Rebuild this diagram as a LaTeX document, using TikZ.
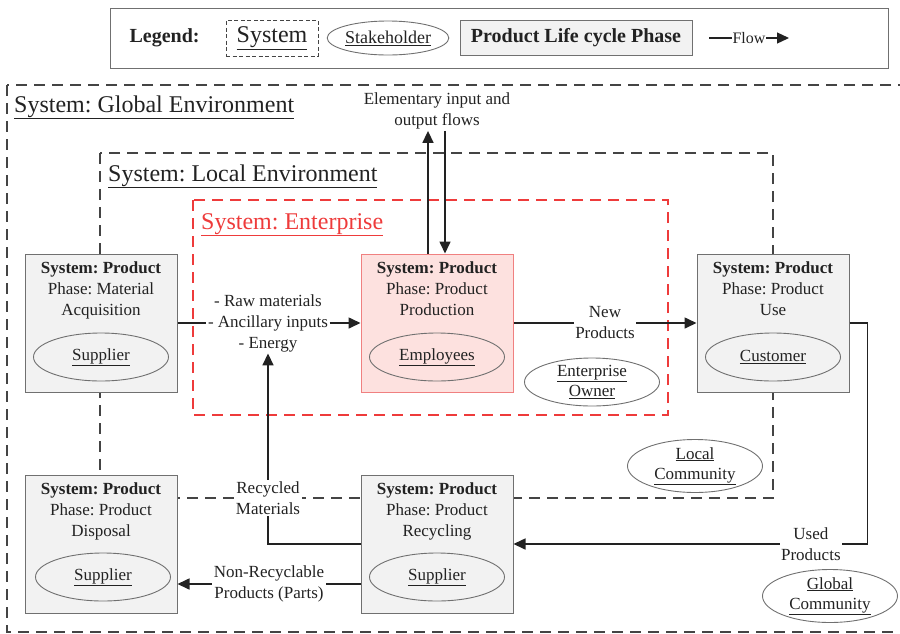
\documentclass[tikz,border=0pt]{standalone}
\usepackage{fontspec}
\setmainfont{Liberation Serif}
\frenchspacing
\usetikzlibrary{positioning,arrows.meta,calc,shapes.geometric}
\definecolor{ink}{HTML}{222222}
\definecolor{envline}{HTML}{444444}
\definecolor{boxline}{HTML}{707070}
\definecolor{boxfill}{HTML}{F2F2F2}
\definecolor{entred}{HTML}{EE3B3B}
\definecolor{prodfill}{HTML}{FDE1DF}
\definecolor{prodline}{HTML}{F08080}
\tikzset{
  phasebox/.style={draw=boxline,fill=boxfill,line width=1pt,minimum width=152pt,minimum height=138pt,inner sep=0pt},
  redphasebox/.style={phasebox,draw=prodline,fill=prodfill},
  phasetxt/.style={anchor=north,align=center,inner sep=0pt,text=ink,font=\fontsize{17}{21}\selectfont},
  holder/.style={ellipse,draw=boxline,line width=0.9pt,minimum width=135pt,minimum height=48pt,inner sep=0pt,align=center,text=ink,font=\fontsize{17}{20}\selectfont},
  envbox/.style={draw=envline,line width=1.6pt,dash pattern=on 11pt off 7pt},
  redenvbox/.style={envbox,draw=entred},
  envlbl/.style={anchor=base west,inner sep=0pt,text=ink,font=\fontsize{24}{28}\selectfont},
  flow/.style={-{Triangle[length=12pt,width=11pt]},draw=ink,line width=1.6pt},
  lbl/.style={fill=white,inner sep=1.5pt,align=center,text=ink,font=\fontsize{17}{21}\selectfont}}

\begin{document}
\begin{tikzpicture}[x=1pt,y=-1pt]
  \useasboundingbox (0,0) rectangle (900,633);
  % legend
  \node[draw=boxline,line width=1pt,minimum width=778pt,minimum height=60pt] (legend) at (499,38) {};
  \node[anchor=west,text=ink,font=\fontsize{20}{24}\selectfont\bfseries] (legtitle) at (126,38) {Legend:};
  \node[draw=envline,line width=0.8pt,dash pattern=on 4pt off 2.5pt,minimum width=92pt,minimum height=36pt,text=ink,font=\fontsize{24}{28}\selectfont] (legsys) at (272,38) {\underline{System}};
  \node[holder,minimum width=110pt,minimum height=34pt,font=\fontsize{18}{20}\selectfont] (legholder) at (388,38) {\underline{Stakeholder}};
  \node[draw=boxline,fill=boxfill,line width=1pt,minimum width=232pt,minimum height=35pt,text=ink,font=\fontsize{20}{24}\selectfont\bfseries] (legphase) at (576,38) {Product Life cycle Phase};
  \coordinate (flowa) at (709,38);
  \coordinate (flowb) at (789,38);
  \draw[flow,line width=1.3pt] (flowa) -- node[lbl,inner sep=1pt,font=\fontsize{16}{18}\selectfont] {Flow} (flowb);
  % systems
  \draw[envbox] (7,85) rectangle (910,632);
  \draw[envbox] (100,153) rectangle (773,498);
  \draw[redenvbox] (193,200) rectangle (668,415);
  \node[envlbl] (globlbl) at (14,112) {\underline{System: Global Environment}};
  \node[envlbl] (loclbl) at (108,181) {\underline{System: Local Environment}};
  \node[envlbl,text=entred] (entlbl) at (201,229) {\underline{System: Enterprise}};
  % life cycle phases
  \node[phasebox] (acq) at (101,323) {};
  \node[phasetxt] at ([yshift=-8pt]acq.north) {\textbf{System: Product}\\Phase: Material\\Acquisition};
  \node[holder] (acqsup) at (101,357) {\underline{Supplier}};
  \node[redphasebox] (prod) at (437,323) {};
  \node[phasetxt] at ([yshift=-8pt]prod.north) {\textbf{System: Product}\\Phase: Product\\Production};
  \node[holder] (employees) at (437,357) {\underline{Employees}};
  \node[phasebox] (use) at (773,323) {};
  \node[phasetxt] at ([yshift=-8pt]use.north) {\textbf{System: Product}\\Phase: Product\\Use};
  \node[holder] (customer) at (773,357) {\underline{Customer}};
  \node[phasebox] (disp) at (101,544) {};
  \node[phasetxt] at ([yshift=-8pt]disp.north) {\textbf{System: Product}\\Phase: Product\\Disposal};
  \node[holder] (dispsup) at (103,577) {\underline{Supplier}};
  \node[phasebox] (recy) at (437,544) {};
  \node[phasetxt] at ([yshift=-8pt]recy.north) {\textbf{System: Product}\\Phase: Product\\Recycling};
  \node[holder] (recysup) at (437,577) {\underline{Supplier}};
  % other stakeholders
  \node[holder] (owner) at (592,382) {\underline{Enterprise}\\\underline{Owner}};
  \node[holder] (localcom) at (695,466) {\underline{Local}\\\underline{Community}};
  \node[holder] (globalcom) at (830,596) {\underline{Global}\\\underline{Community}};
  % flows
  \node[lbl,fill=none] (inputs) at (268,323) {- Raw materials\\- Ancillary inputs\\- Energy};
  \draw[draw=ink,line width=1.6pt] (acq) -- (inputs);
  \draw[flow] (inputs) -- (prod);
  \draw[flow] (prod) -- node[lbl] {New\\Products} (use);
  \draw[flow] (use.east) -- ++(18,0) |- node[lbl,pos=0.58] {Used\\Products} (recy.east);
  \draw[flow] (recy.west) -| node[lbl,pos=0.62] {Recycled\\Materials} (inputs.south);
  \draw[flow] ([yshift=-40pt]recy.west) -- node[lbl] {Non-Recyclable\\Products (Parts)} ([yshift=-40pt]recy.west -| disp.east);
  \node[lbl,fill=none] (elem) at (437,111) {Elementary input and\\output flows};
  \draw[flow] ([xshift=-9pt]prod.north) -- ([xshift=-9pt]prod.north |- elem.south);
  \draw[flow] ([xshift=8pt]prod.north |- elem.south) -- ([xshift=8pt]prod.north);
\end{tikzpicture}
\end{document}
